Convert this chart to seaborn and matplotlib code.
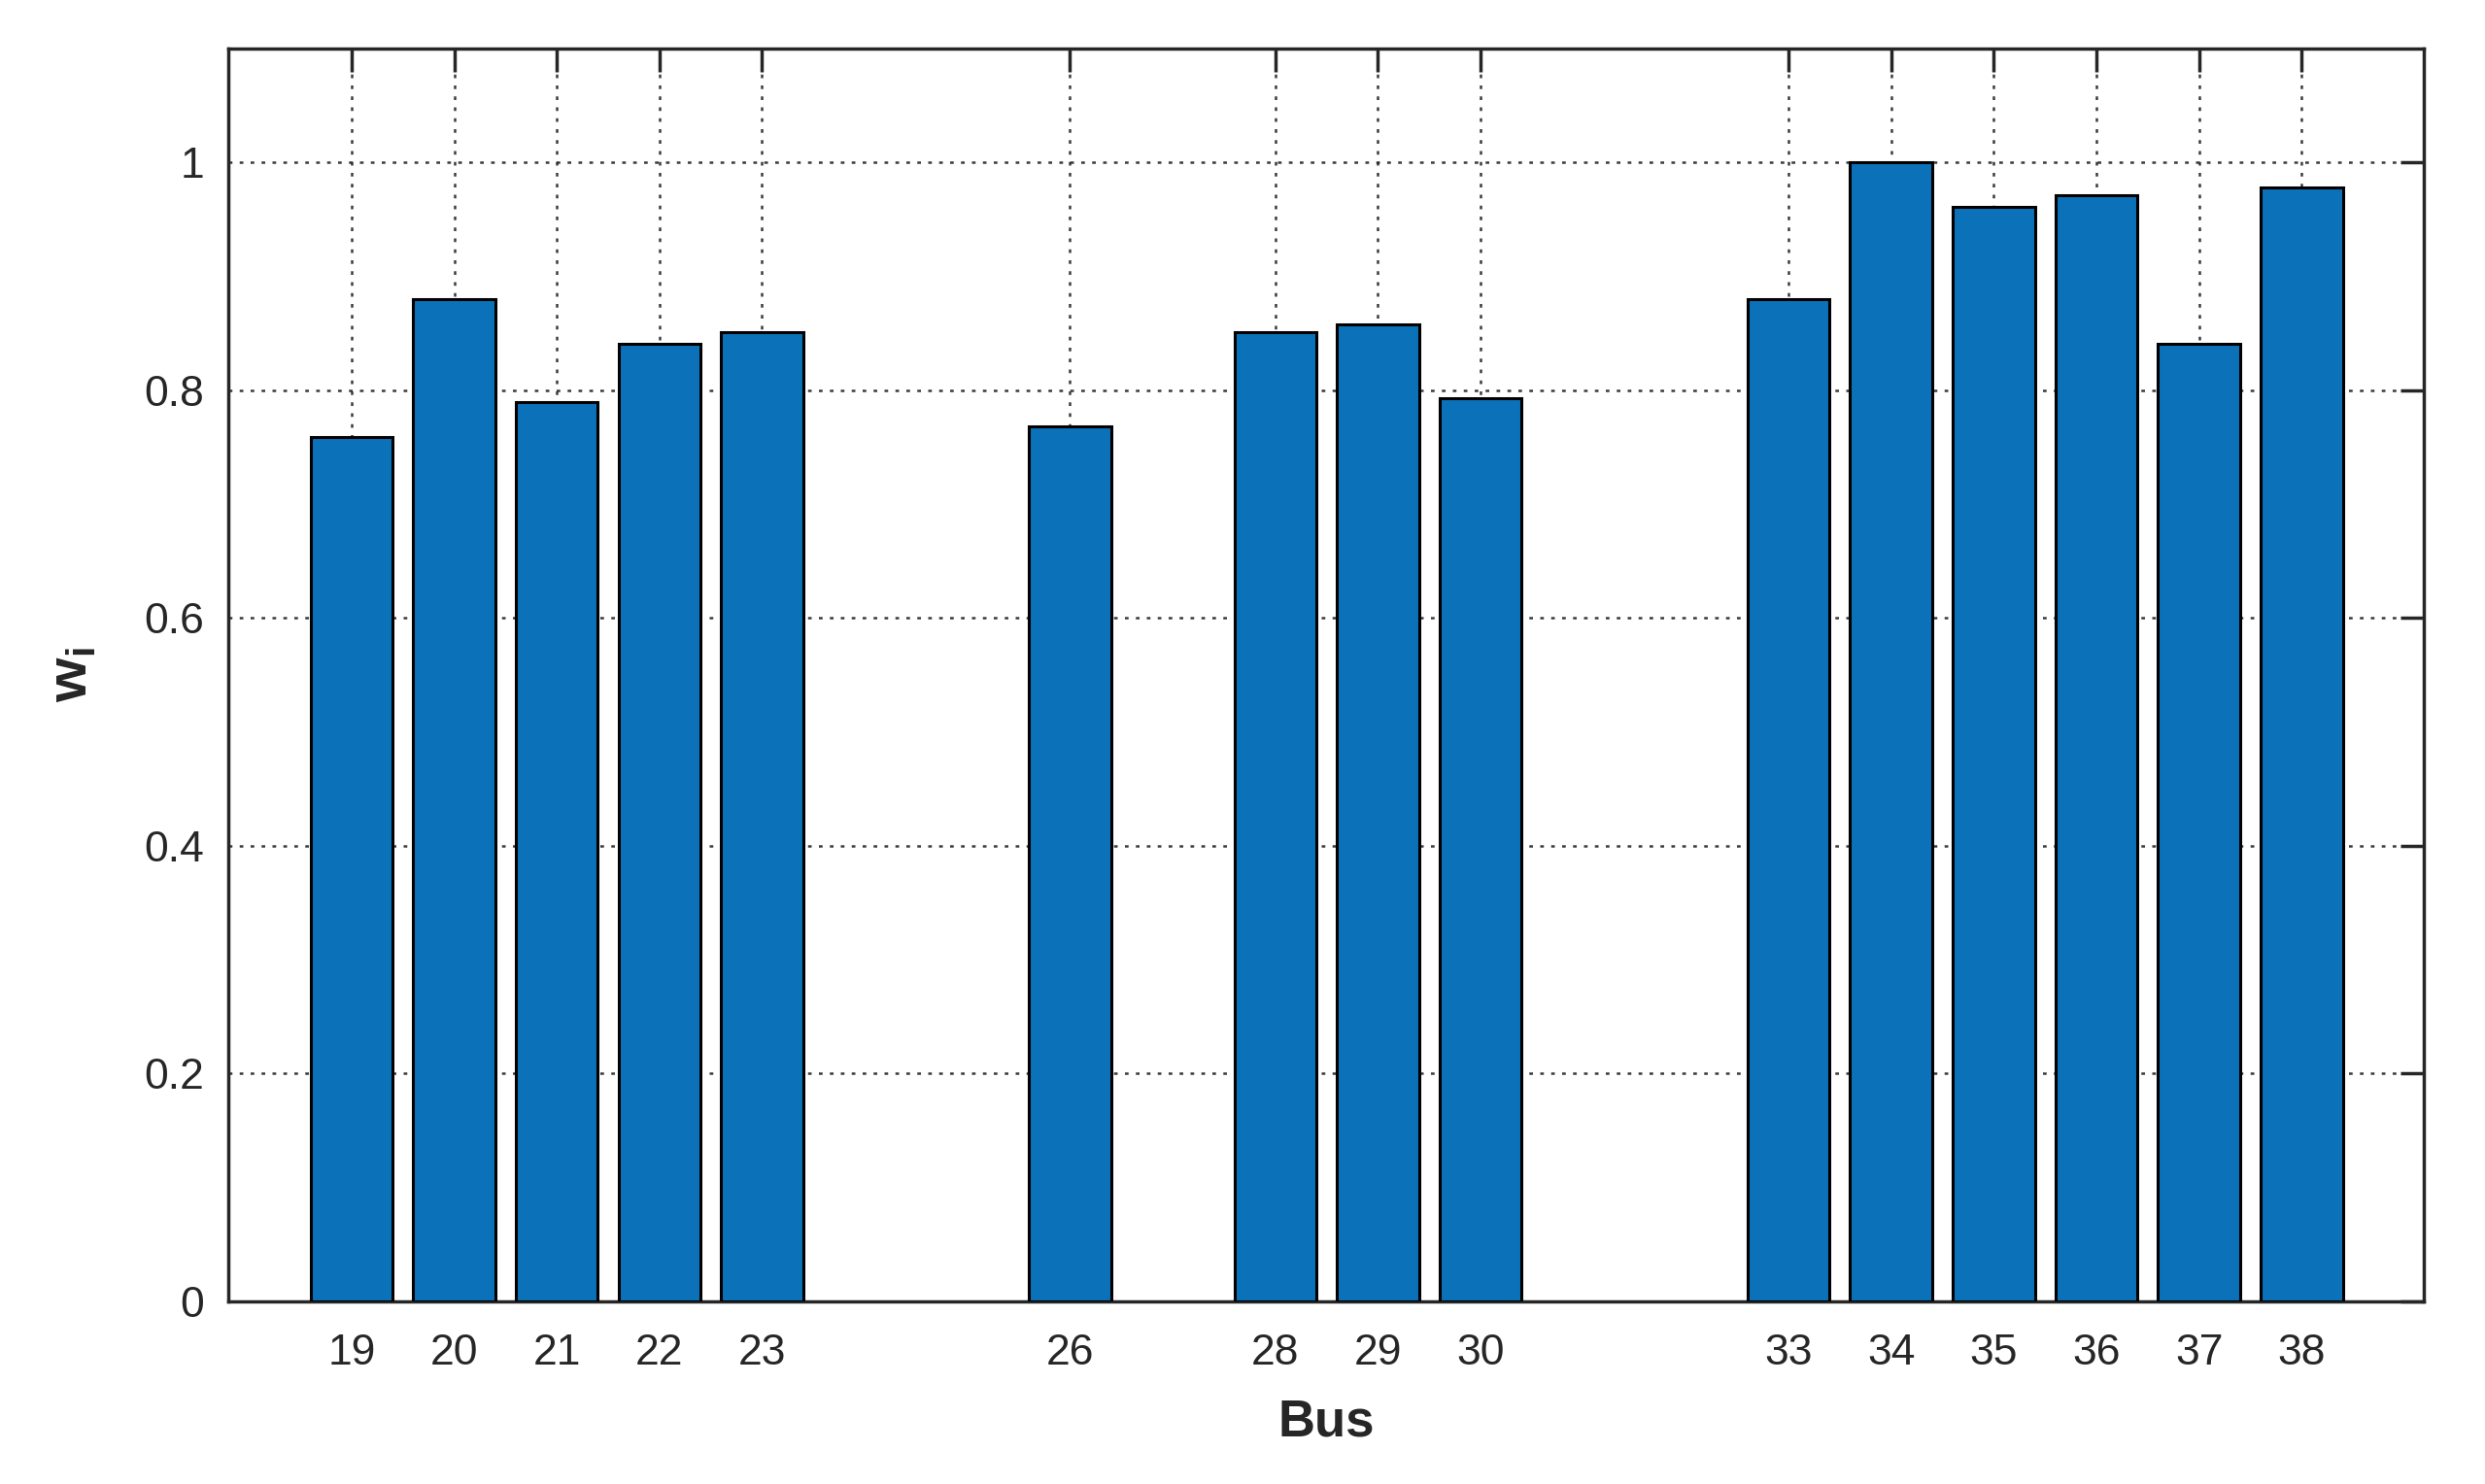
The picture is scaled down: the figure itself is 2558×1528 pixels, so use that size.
import matplotlib
matplotlib.use("Agg")
import matplotlib.pyplot as plt
import seaborn as sns
import pandas as pd

buses = [19, 20, 21, 22, 23, 26, 28, 29, 30, 33, 34, 35, 36, 37, 38]
weights = [0.759, 0.880, 0.790, 0.841, 0.851, 0.768, 0.851, 0.858, 0.793,
           0.880, 1.000, 0.961, 0.971, 0.841, 0.978]
yticks = [0, 0.2, 0.4, 0.6, 0.8, 1.0]
ytick_labels = ["0", "0.2", "0.4", "0.6", "0.8", "1"]

df = pd.DataFrame({"Bus": buses, "w": weights})

sns.set_theme(style="white")
plt.rcParams["font.family"] = ["Liberation Sans", "DejaVu Sans"]
plt.rcParams["mathtext.fontset"] = "custom"
plt.rcParams["mathtext.rm"] = "Liberation Sans"
plt.rcParams["mathtext.bf"] = "Liberation Sans:bold"
plt.rcParams["mathtext.it"] = "Liberation Sans:italic"

fig = plt.figure(figsize=(25.58, 15.28), dpi=100)
ax = fig.add_axes([0.0919, 0.1230, 0.8835, 0.8443])

sns.barplot(data=df, x="Bus", y="w", native_scale=True, width=0.8,
            color="#0B72B9", saturation=1, edgecolor="black", linewidth=2.2,
            ax=ax, zorder=3)

ax.set_xlim(17.8, 39.19)
ax.set_ylim(0, 1.1)
ax.set_xticks(buses)
ax.set_xticklabels([str(b) for b in buses])
ax.set_yticks(yticks)
ax.set_yticklabels(ytick_labels)

ax.set_axisbelow(True)
ax.grid(True, which="major", axis="both", linestyle=(0, (1.5, 3)),
        color="#262626", linewidth=1.8, alpha=0.9)

for s in ax.spines.values():
    s.set_visible(True)
    s.set_color("#262626")
    s.set_linewidth(2.5)

ax.tick_params(axis="both", direction="in", length=17, width=2.5,
               color="#262626", labelsize=32, labelcolor="#262626",
               top=True, right=True)
ax.tick_params(axis="x", pad=24)
ax.tick_params(axis="y", pad=18)

ax.set_xlabel("Bus", fontsize=38, fontweight="bold", color="#262626", labelpad=18)
ax.set_ylabel(r"$\mathbf{w}_\mathbf{i}$", fontsize=42, color="#262626", labelpad=34)

fig.savefig("out.png", dpi=100)
